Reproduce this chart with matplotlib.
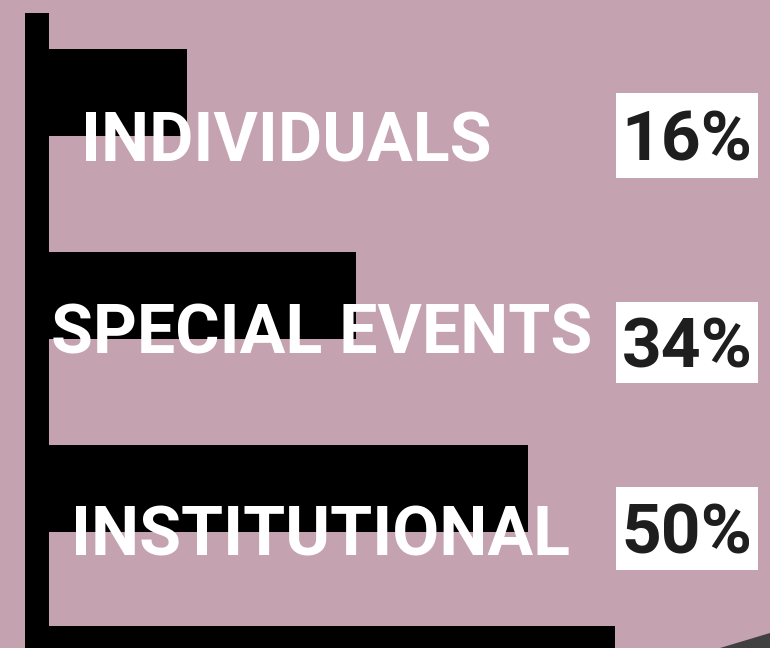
import matplotlib
matplotlib.use("Agg")
import matplotlib.pyplot as plt
from matplotlib.patches import Rectangle, Polygon

# ---- data ----
categories = ["INDIVIDUALS", "SPECIAL EVENTS", "INSTITUTIONAL"]
percent_labels = ["16%", "34%", "50%"]
bar_lengths = [16.2, 33.1, 50.3]      # bar lengths (axis units)
axis_line_length = 59.0              # bottom axis bar length

# ---- style / layout ----
BG = "#C4A2AF"
BAR = "#000000"
TXT_DARK = "#1E1E1E"
W, H = 770, 648
PX_PER_UNIT_X = 10.0
X0_PX = 25.0                          # px of x = 0
bar_centre_px = [92.5, 295.5, 488.5]  # vertical layout of the three rows
BAR_H_PX = 87

fig = plt.figure(figsize=(W / 100, H / 100), dpi=100)
fig.patch.set_facecolor(BG)
ax = fig.add_axes([0, 0, 1, 1])
ax.set_facecolor(BG)
ax.set_xlim(-X0_PX / PX_PER_UNIT_X, (W - X0_PX) / PX_PER_UNIT_X)
ax.set_ylim(H, 0)
ax.axis("off")

def px_x(p):
    return (p - X0_PX) / PX_PER_UNIT_X

def dx(d):
    return d / PX_PER_UNIT_X

# bars
ax.barh(bar_centre_px, bar_lengths, height=BAR_H_PX, left=0, color=BAR, zorder=2)

# vertical axis bar
ax.add_patch(Rectangle((0, 13), dx(23.5), H, color=BAR, zorder=3, lw=0))
# bottom axis bar
ax.add_patch(Rectangle((0, 626), axis_line_length, 40, color=BAR, zorder=3, lw=0))

# category labels (white, overlapping the bars)
label_cx_px = [286.5, 322, 320]
label_baseline_px = [162, 354, 555]
for lab, cx, base in zip(categories, label_cx_px, label_baseline_px):
    ax.text(px_x(cx), base, lab, color="white",
            fontsize=49, fontweight="bold",
            family=["Roboto", "DejaVu Sans"],
            ha="center", va="baseline", zorder=5)

# percentage boxes
box_left_px, box_w_px = 616, 142
box_top_px = [93, 302, 487]
box_h_px = [85, 81, 83]
for pl, top, bh in zip(percent_labels, box_top_px, box_h_px):
    ax.add_patch(Rectangle((px_x(box_left_px), top), dx(box_w_px), bh,
                           color="white", lw=0, zorder=4))
    ax.text(px_x(box_left_px + box_w_px / 2), top + bh / 2 + 25, pl,
            color=TXT_DARK, fontsize=50, fontweight="bold",
            family=["Roboto", "DejaVu Sans"],
            ha="center", va="baseline", zorder=6)

# dark corner shape
fig.patches.append(Polygon([(720 / W, 0), (1, 15 / H), (1, 0)], closed=True,
                           transform=fig.transFigure, color="#404040", lw=0))

fig.savefig("out.png", dpi=100, facecolor=BG)
